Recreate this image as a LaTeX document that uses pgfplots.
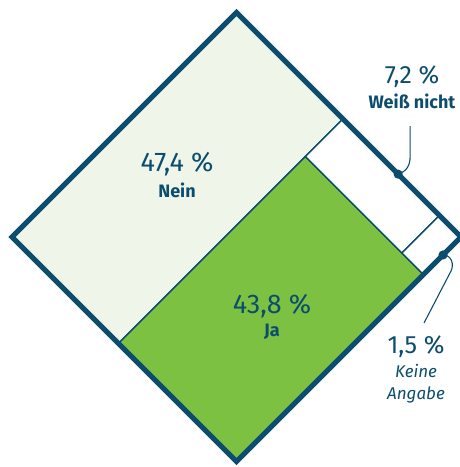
\documentclass[border=0pt]{standalone}
\usepackage{pgfplots}
\pgfplotsset{compat=1.18}
\usepackage{fontspec}
\setmainfont{Fira Sans}
\definecolor{darkblue}{HTML}{0C4D6E}
\definecolor{neinfill}{HTML}{EFF5E8}
\definecolor{jafill}{HTML}{7DC143}
\begin{document}
\begin{tikzpicture}
\useasboundingbox (0pt,0pt) rectangle (460pt,-467pt);
\begin{axis}[
  anchor=origin, at={(12pt,-237pt)},
  x={(2.245pt,-2.245pt)}, y={(2.245pt,2.245pt)},
  xmin=0, xmax=100, ymin=0, ymax=100,
  hide axis, clip=false,
]
% Nein: a in [0,47.4], b in [0,100]
\addplot[fill=neinfill, draw=darkblue, line width=1.3pt] coordinates {(0,0) (47.4,0) (47.4,100) (0,100)} --cycle;
% Ja: a in [47.4,100], b in [0,83.27]  (43.8/52.6)
\addplot[fill=jafill, draw=darkblue, line width=1.3pt] coordinates {(47.4,0) (100,0) (100,83.27) (47.4,83.27)} --cycle;
% Weiss nicht: 7.2
\addplot[fill=white, draw=darkblue, line width=1.3pt] coordinates {(47.4,83.27) (90.4,83.27) (90.4,100) (47.4,100)} --cycle;
% Keine Angabe: 1.5
\addplot[fill=white, draw=darkblue, line width=1.3pt] coordinates {(90.4,83.27) (100,83.27) (100,100) (90.4,100)} --cycle;
% outer border
\addplot[draw=darkblue, line width=5pt, line join=miter] coordinates {(0,0) (100,0) (100,100) (0,100)} --cycle;
\coordinate (dotW) at (axis cs:72,100);
\coordinate (dotK) at (axis cs:100,92);
\end{axis}
\fill[darkblue] (dotW) circle[radius=4.6pt];
\fill[darkblue] (dotK) circle[radius=4.6pt];
\draw[darkblue, line width=1.1pt] (dotW) .. controls +(9pt,3pt) and +(0pt,-9pt) .. ++(12pt,18pt) -- ++(0pt,30pt);
\draw[darkblue, line width=1.1pt] (dotK) .. controls +(9pt,0pt) and +(3pt,6pt) .. ++(8pt,-16pt) -- ++(-27pt,-52pt);
\begin{scope}[every node/.style={text=darkblue, inner sep=0pt}]
\node at (177pt,-164pt) {\fontsize{27}{30}\selectfont 47,4 \%};
\node at (177pt,-190pt) {\fontsize{18}{21}\selectfont\bfseries Nein};
\node at (272pt,-306pt) {\fontsize{27}{30}\selectfont 43,8 \%};
\node at (272pt,-332pt) {\fontsize{18}{21}\selectfont\bfseries Ja};
\node at (412pt,-77pt) {\fontsize{25}{28}\selectfont 7,2 \%};
\node at (412pt,-101pt) {\fontsize{18}{21}\selectfont\bfseries Weiß nicht};
\node at (416pt,-347pt) {\fontsize{25}{28}\selectfont 1,5 \%};
\node at (416pt,-371pt) {\fontsize{17}{20}\selectfont\itshape Keine};
\node at (416pt,-395pt) {\fontsize{17}{20}\selectfont\itshape Angabe};
\end{scope}
\end{tikzpicture}
\end{document}
